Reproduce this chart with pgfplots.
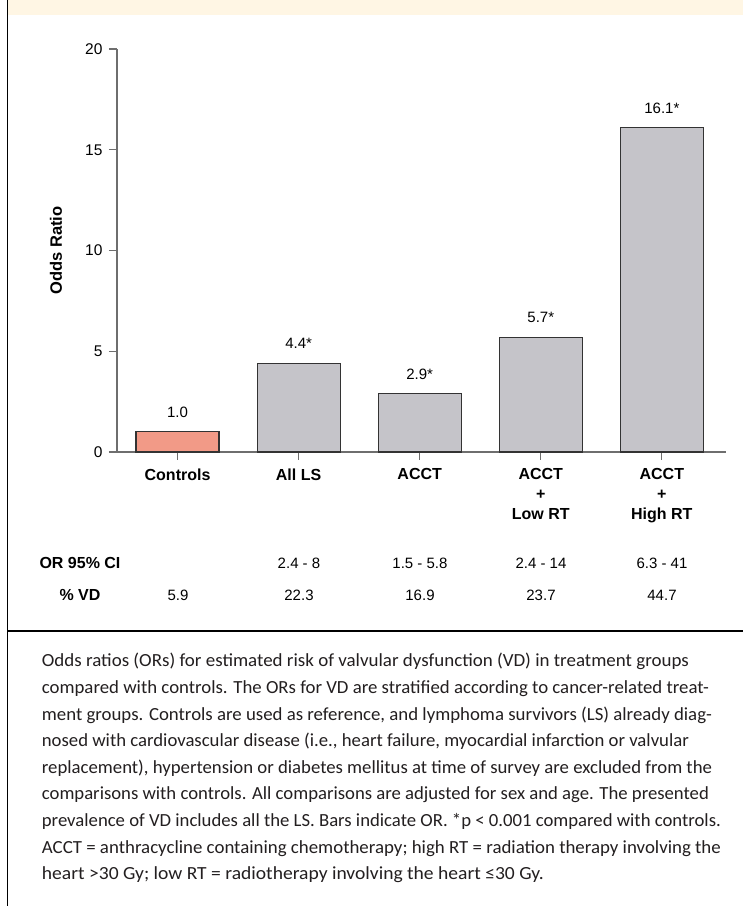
\documentclass[border=0pt]{standalone}
\usepackage{fontspec}
\setmainfont{Liberation Sans}
\newfontfamily\capfont{Carlito}
\usepackage{graphicx}
\usepackage{pgfplots}
\pgfplotsset{compat=1.18}
\definecolor{salmon}{HTML}{F29A87}
\definecolor{bargray}{HTML}{C5C4C9}
\definecolor{edge}{HTML}{333333}
\definecolor{cream}{HTML}{FFF6E4}
\definecolor{axisgray}{HTML}{6E6E6E}
\definecolor{captext}{HTML}{231F20}
\newcommand{\capline}[3]{\node[anchor=base west, inner sep=0pt, text=captext] at (41.7,#1) {\resizebox{#2pt}{\height}{\capfont\fontsize{18.5}{22}\selectfont #3}};}
\begin{document}
\begin{tikzpicture}[x=1pt,y=1pt]
\useasboundingbox (0,0) rectangle (743,906);
\fill[white] (0,0) rectangle (743,906);
\fill[cream] (8,891) rectangle (743,906);
\draw[line width=1.8pt] (7.5,0) -- (7.5,906);
\draw[line width=1.8pt] (7.5,275) -- (743,275);
\begin{axis}[
  at={(117pt,454pt)}, anchor=south west,
  scale only axis, width=609pt, height=403pt,
  xmin=-0.5, xmax=4.53, ymin=0, ymax=20,
  axis x line*=bottom, axis y line*=left,
  axis line style={-, draw=axisgray, line width=1.2pt},
  tick align=outside, major tick length=8pt,
  tick style={draw=axisgray, line width=1.2pt},
  xtick={0,1,2,3,4},
  xticklabels={Controls, All LS, ACCT, {ACCT\\+\\Low RT}, {ACCT\\+\\High RT}},
  xticklabel style={font=\bfseries\fontsize{16}{20}\selectfont, align=center, anchor=north, yshift=-5pt},
  ytick={0,5,10,15,20},
  yticklabel style={font=\fontsize{15.5}{18}\selectfont, xshift=-3pt},
  /pgf/number format/assume math mode=true,
  ylabel={Odds Ratio},
  ylabel style={font=\bfseries\fontsize{16.5}{20}\selectfont, at={(axis description cs:-0.1,0.5)}, anchor=center},
  ybar, bar width=83pt, bar shift=0pt,
  clip=false,
  nodes near coords, point meta=explicit symbolic,
  nodes near coords style={font=\fontsize{15}{18}\selectfont, text=black, anchor=base, yshift=14.5pt, inner sep=0pt},
]
\addplot[fill=salmon, draw=edge, line width=1.2pt] coordinates {(0,1.0) [1.0]};
\addplot[fill=bargray, draw=edge, line width=1.2pt] coordinates {(1,4.4) [4.4*] (2,2.9) [2.9*] (3,5.7) [5.7*] (4,16.1) [16.1*]};
\end{axis}
\begin{scope}[every node/.style={anchor=base, inner sep=0pt}]
\node[font=\bfseries\fontsize{16}{20}\selectfont] at (80,337) {OR 95\% CI};
\node[font=\bfseries\fontsize{16}{20}\selectfont] at (80,305) {\% VD};
\node[font=\fontsize{15}{18}\selectfont] at (299,337) {2.4 - 8};
\node[font=\fontsize{15}{18}\selectfont] at (420,337) {1.5 - 5.8};
\node[font=\fontsize{15}{18}\selectfont] at (541,337) {2.4 - 14};
\node[font=\fontsize{15}{18}\selectfont] at (662,337) {6.3 - 41};
\node[font=\fontsize{15}{18}\selectfont] at (178,305) {5.9};
\node[font=\fontsize{15}{18}\selectfont] at (299,305) {22.3};
\node[font=\fontsize{15}{18}\selectfont] at (420,305) {16.9};
\node[font=\fontsize{15}{18}\selectfont] at (541,305) {23.7};
\node[font=\fontsize{15}{18}\selectfont] at (662,305) {44.7};
\end{scope}
\capline{239}{647}{Odds ratios (ORs) for estimated risk of valvular dysfunction (VD) in treatment groups}
\capline{212.4}{667}{compared with controls. The ORs for VD are stratified according to cancer-related treat-}
\capline{185.8}{670}{ment groups. Controls are used as reference, and lymphoma survivors (LS) already diag-}
\capline{159.2}{647}{nosed with cardiovascular disease (i.e., heart failure, myocardial infarction or valvular}
\capline{132.6}{670}{replacement), hypertension or diabetes mellitus at time of survey are excluded from the}
\capline{106}{667}{comparisons with controls. All comparisons are adjusted for sex and age. The presented}
\capline{79.4}{679}{prevalence of VD includes all the LS. Bars indicate OR. *p < 0.001 compared with controls.}
\capline{52.8}{679}{ACCT = anthracycline containing chemotherapy; high RT = radiation therapy involving the}
\capline{26.2}{502}{heart >30 Gy; low RT = radiotherapy involving the heart ≤30 Gy.}
\end{tikzpicture}
\end{document}
